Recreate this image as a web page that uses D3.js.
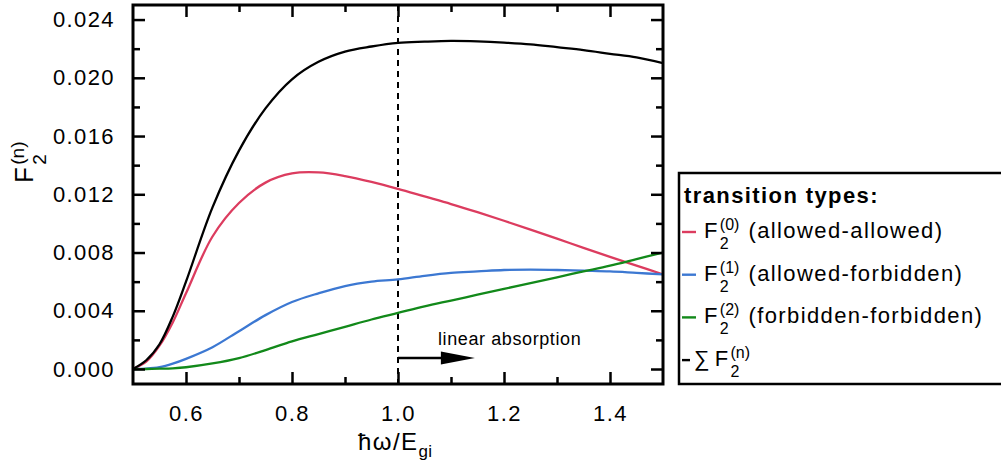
<!DOCTYPE html>
<html>
<head>
<meta charset="utf-8">
<script src="https://cdn.jsdelivr.net/npm/d3@7"></script>
<style>
  body { margin: 0; background: #fff; }
  svg text { font-family: "Liberation Sans", Arial, sans-serif; letter-spacing: 1.4px; fill: #000; }
</style>
</head>
<body>
<svg id="chart" width="1001" height="468"></svg>
<script>
// photon energy grid (ħω/E_gi)
const energy = [0.5, 0.525, 0.55, 0.575, 0.6, 0.65, 0.7, 0.75, 0.8, 0.85, 0.9, 0.95,
                1.0, 1.05, 1.1, 1.15, 1.2, 1.25, 1.3, 1.35, 1.4, 1.45, 1.5];

// F2^(0) allowed-allowed
const f0 = [0, 0.0005, 0.0016, 0.0032, 0.0052, 0.0091, 0.0114, 0.0128, 0.01343, 0.01350, 0.01325, 0.01285,
            0.01237, 0.01185, 0.01133, 0.01077, 0.01018, 0.00957, 0.00895, 0.00832, 0.0077, 0.0071, 0.0065];
// F2^(1) allowed-forbidden
const f1 = [0, 0.00003, 0.00013, 0.00037, 0.0007, 0.0015, 0.0026, 0.0037, 0.0046, 0.0052, 0.0057, 0.0060,
            0.00615, 0.0064, 0.0066, 0.0067, 0.0068, 0.00682, 0.0068, 0.00675, 0.0067, 0.0066, 0.0065];
// F2^(2) forbidden-forbidden
const f2 = [0, 0, 0.00002, 0.00005, 0.00012, 0.00038, 0.00075, 0.0013, 0.0019, 0.0024, 0.0029, 0.0034,
            0.00385, 0.0043, 0.0047, 0.0051, 0.0055, 0.0059, 0.0063, 0.0067, 0.0071, 0.00755, 0.0080];
// sum over n
const fSum = [0, 0.0006, 0.0017, 0.0036, 0.0060, 0.0111, 0.0150, 0.0179, 0.0199, 0.0211, 0.0218, 0.02215,
              0.0224, 0.02248, 0.02253, 0.0225, 0.02242, 0.0223, 0.0221, 0.0219, 0.02165, 0.0214, 0.0210];

const xMajor = [0.6, 0.8, 1.0, 1.2, 1.4];
const xMinor = [0.7, 0.9, 1.1, 1.3];
const yMajor = [0, 0.004, 0.008, 0.012, 0.016, 0.020, 0.024];
const yMinor = [0.002, 0.006, 0.010, 0.014, 0.018, 0.022];

const seriesNames = ["f0", "f1", "f2", "sum"];
const seriesColors = ["#dc3c5f", "#3c78d2", "#12891a", "#000000"];
const seriesSup = ["(0)", "(1)", "(2)", "(n)"];
const seriesDesc = ["(allowed-allowed)", "(allowed-forbidden)", "(forbidden-forbidden)", ""];

// annotation: band edge and arrow
const edgeX = 1.0;
const arrowEndX = 1.145, arrowY = 0.00076;
const annotText = "linear absorption";

const svg = d3.select("#chart");

const x = d3.scaleLinear().domain([0.5, 1.5]).range([133, 663]);
const y = d3.scaleLinear().domain([-0.00103, 0.025]).range([384, 5]);

const fontSize = 22;

svg.append("clipPath").attr("id", "plotclip")
  .append("rect").attr("x", 133).attr("y", 5).attr("width", 530).attr("height", 379);

// curves
const allSeries = [f0, f1, f2, fSum];
const line = d3.line()
  .x((d, i) => x(energy[i]))
  .y(d => y(d))
  .curve(d3.curveCatmullRom.alpha(0.5));

const plot = svg.append("g").attr("clip-path", "url(#plotclip)");

// dashed band edge line
plot.append("line")
  .attr("x1", x(edgeX)).attr("x2", x(edgeX))
  .attr("y1", y.range()[1]).attr("y2", y.range()[0])
  .attr("stroke", "#000").attr("stroke-width", 2)
  .attr("stroke-dasharray", "6,5");

plot.selectAll(".curve")
  .data(allSeries)
  .enter().append("path")
  .attr("class", "curve")
  .attr("d", line)
  .attr("fill", "none")
  .attr("stroke", (d, i) => seriesColors[i])
  .attr("stroke-width", 2.3);

// arrow annotation
const headLen = 34;
svg.append("line")
  .attr("x1", x(edgeX)).attr("x2", x(arrowEndX) - headLen + 2)
  .attr("y1", y(arrowY)).attr("y2", y(arrowY))
  .attr("stroke", "#000").attr("stroke-width", 2.5);
svg.append("path")
  .attr("d", `M${x(arrowEndX)},${y(arrowY)} L${x(arrowEndX) - headLen},${y(arrowY) - 6.5} L${x(arrowEndX) - headLen},${y(arrowY) + 6.5} Z`)
  .attr("fill", "#000");
svg.append("text")
  .attr("x", x(edgeX) + 40).attr("y", y(arrowY) - 13)
  .style("font-size", "18px")
  .style("letter-spacing", "0.6px")
  .text(annotText);

// axes: major and minor ticks on all four sides, pointing inward
function styleAxis(g) {
  g.select(".domain").remove();
  g.selectAll(".tick line").attr("stroke", "#000").attr("stroke-width", 2.5);
  g.selectAll("text").style("font-size", fontSize + "px").attr("fill", "#000");
}

svg.append("g").attr("transform", "translate(0,384)")
  .call(d3.axisBottom(x).tickValues(xMajor).tickSize(-12).tickPadding(21).tickFormat(d3.format(".1f")))
  .call(styleAxis);
svg.append("g").attr("transform", "translate(0,384)")
  .call(d3.axisBottom(x).tickValues(xMinor).tickSize(-7).tickFormat(""))
  .call(styleAxis);
svg.append("g").attr("transform", "translate(0,5)")
  .call(d3.axisTop(x).tickValues(xMajor).tickSize(-12).tickFormat(""))
  .call(styleAxis);
svg.append("g").attr("transform", "translate(0,5)")
  .call(d3.axisTop(x).tickValues(xMinor).tickSize(-7).tickFormat(""))
  .call(styleAxis);

svg.append("g").attr("transform", "translate(133,0)")
  .call(d3.axisLeft(y).tickValues(yMajor).tickSize(-12).tickPadding(18).tickFormat(d3.format(".3f")))
  .call(styleAxis);
svg.append("g").attr("transform", "translate(133,0)")
  .call(d3.axisLeft(y).tickValues(yMinor).tickSize(-7).tickFormat(""))
  .call(styleAxis);
svg.append("g").attr("transform", "translate(663,0)")
  .call(d3.axisRight(y).tickValues(yMajor).tickSize(-12).tickFormat(""))
  .call(styleAxis);
svg.append("g").attr("transform", "translate(663,0)")
  .call(d3.axisRight(y).tickValues(yMinor).tickSize(-7).tickFormat(""))
  .call(styleAxis);

// frame
svg.append("rect")
  .attr("x", 133).attr("y", 5).attr("width", 530).attr("height", 379)
  .attr("fill", "none").attr("stroke", "#000").attr("stroke-width", 3);

// F_2^(sup) helper, returns end x
function drawF(g, x0, y0, sup, size) {
  const small = Math.round(size * 0.73);
  const f = g.append("text").attr("x", x0).attr("y", y0).style("font-size", size + "px").text("F");
  const fx = x0 + f.node().getComputedTextLength() + 1;
  const s = g.append("text").attr("x", fx).attr("y", y0 + size * 0.5).style("font-size", small + "px")
    .style("letter-spacing", "0px").text("2");
  const p = g.append("text").attr("x", fx).attr("y", y0 - size * 0.36).style("font-size", small + "px")
    .style("letter-spacing", "0px").text(sup);
  return fx + Math.max(s.node().getComputedTextLength(), p.node().getComputedTextLength());
}

// axis titles
const yTitle = svg.append("g").attr("transform", "translate(33,183) rotate(-90)");
drawF(yTitle, 0, 0, "(n)", 26);

const xTitle = svg.append("g");
const xt = xTitle.append("text").attr("x", 358).attr("y", 450).style("font-size", "24px").text("ħω/E");
const xtEnd = 358 + xt.node().getComputedTextLength();
xTitle.append("text").attr("x", xtEnd).attr("y", 457).style("font-size", "17px")
  .style("letter-spacing", "0.5px").text("gi");

// legend
const legend = svg.append("g");
legend.append("rect")
  .attr("x", 679).attr("y", 173).attr("width", 340).attr("height", 211)
  .attr("fill", "#fff").attr("stroke", "#000").attr("stroke-width", 2.5);
legend.append("text")
  .attr("x", 684).attr("y", 203)
  .style("font-size", fontSize + "px").style("font-weight", "bold")
  .text("transition types:");

seriesNames.forEach((name, i) => {
  const sy = 232 + i * 42.7;
  const isSum = name === "sum";
  legend.append("line")
    .attr("x1", 682).attr("x2", isSum ? 690 : 696)
    .attr("y1", sy).attr("y2", sy)
    .attr("stroke", seriesColors[i]).attr("stroke-width", 2.4);
  let tx = 704;
  if (isSum) {
    const sig = legend.append("text").attr("x", 694).attr("y", sy + 6)
      .style("font-size", fontSize + "px").style("letter-spacing", "0px").text("∑");
    tx = 694 + sig.node().getComputedTextLength() + 5;
  }
  const end = drawF(legend, tx, sy + 6, seriesSup[i], fontSize);
  if (seriesDesc[i]) {
    legend.append("text").attr("x", end + 9).attr("y", sy + 6)
      .style("font-size", fontSize + "px").text(seriesDesc[i]);
  }
});
</script>
</body>
</html>
